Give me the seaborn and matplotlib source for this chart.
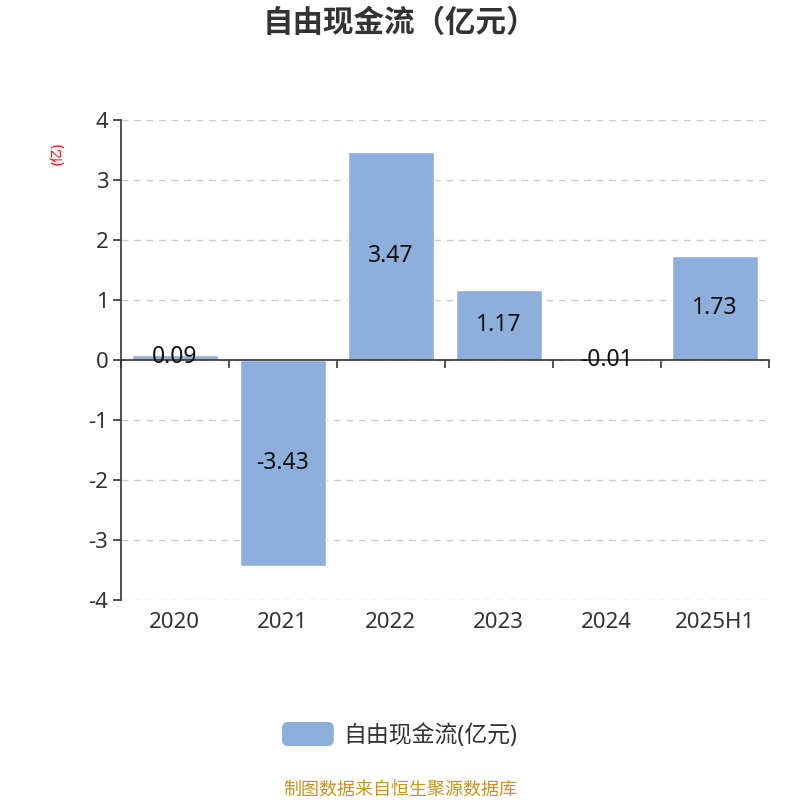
import matplotlib
matplotlib.use("Agg")
import matplotlib.pyplot as plt
from matplotlib.patches import FancyBboxPatch, Rectangle
from matplotlib.legend_handler import HandlerPatch
import seaborn as sns
import pandas as pd
import numpy as np

years = ["2020", "2021", "2022", "2023", "2024", "2025H1"]
values = [0.09, -3.43, 3.47, 1.17, -0.01, 1.73]
value_labels = ["0.09", "-3.43", "3.47", "1.17", "-0.01", "1.73"]
yticks = [-4, -3, -2, -1, 0, 1, 2, 3, 4]

sns.set_style("white")
fam = ['Noto Sans', 'Noto Sans CJK SC', 'DejaVu Sans']
plt.rcParams['font.family'] = fam
plt.rcParams['axes.unicode_minus'] = False

df = pd.DataFrame({"year": years, "value": values})
bar_color = "#8eaedb"

fig = plt.figure(figsize=(8, 8), dpi=100)
ax = fig.add_axes([0.151, 0.25, 0.81, 0.60])
sns.barplot(data=df, x="year", y="value", color=bar_color, saturation=1, width=0.8, ax=ax)

ax.set_ylim(-4, 4)
ax.set_xlim(-0.5, len(years) - 0.5)
ax.set_yticks(yticks)
ax.set_yticklabels([str(t) for t in yticks], fontsize=16, color="#333333")
ax.yaxis.grid(True, linestyle=(0, (5, 4)), color="#cccccc", linewidth=1)
ax.set_axisbelow(True)
ax.tick_params(axis="y", left=True, length=6, width=1.2, color="#333333", pad=3)

for s in ["top", "right"]:
    ax.spines[s].set_visible(False)
ax.spines["left"].set_color("#333333")
ax.spines["left"].set_linewidth(1.2)
ax.spines["bottom"].set_position(("data", 0))
ax.spines["bottom"].set_color("#333333")
ax.spines["bottom"].set_linewidth(1.2)

ax.set_xticks(np.arange(-0.5, len(years), 1.0))
ax.set_xticklabels([])
ax.tick_params(axis="x", bottom=True, length=6, width=1.2, color="#333333", direction="out")
ax.set_xlabel("")
ax.set_ylabel("")

sec = ax.secondary_xaxis(location=0)
sec.set_xticks(range(len(years)))
sec.set_xticklabels(years, fontsize=16, color="#333333")
sec.tick_params(bottom=False, length=0, pad=9)
sec.spines["bottom"].set_visible(False)

for i, (v, lab) in enumerate(zip(values, value_labels)):
    ax.text(i, v / 2, lab, ha="center", va="center", fontsize=16.5, color="#111111")

fig.text(0.073, 0.808, "(亿)", rotation=90, color="red", fontsize=10, ha="center", va="center")
fig.text(0.5, 0.971, "自由现金流（亿元）", fontsize=22, fontweight="bold", color="#333333",
         ha="center", va="center", family=['Noto Sans CJK SC', 'DejaVu Sans'])


def round_patch(legend, orig_handle, xdescent, ydescent, width, height, fontsize):
    return FancyBboxPatch((-xdescent, -ydescent), width, height,
                          boxstyle="round,pad=0,rounding_size=4")


leg = fig.legend([Rectangle((0, 0), 1, 1, color=bar_color)], ["自由现金流(亿元)"],
                 loc="center", bbox_to_anchor=(0.5, 0.081), frameon=False, fontsize=16.5,
                 handlelength=2.2, handleheight=1.15, handletextpad=0.45,
                 handler_map={Rectangle: HandlerPatch(patch_func=round_patch)})
for t in leg.get_texts():
    t.set_color("#333333")

fig.text(0.5, 0.013, "制图数据来自恒生聚源数据库", fontsize=13, color="#c8961e",
         ha="center", va="center", family=['Noto Sans CJK SC', 'DejaVu Sans'])

fig.savefig("out.png", dpi=100, facecolor="white")
